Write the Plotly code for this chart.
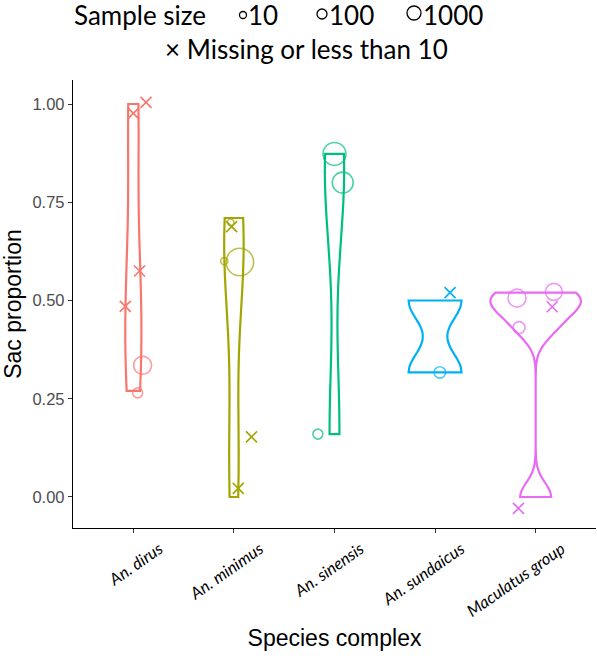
import numpy as np
import plotly.graph_objects as go

# ---------------- data ----------------
species = ["An. dirus", "An. minimus", "An. sinensis", "An. sundaicus", "Maculatus group"]
colors = ["#F8766D", "#A3A500", "#00BF7D", "#00B0F6", "#E76BF3"]

# sac proportion of each study (violin data), sample size (nan = missing or <10),
# horizontal / vertical jitter of the plotted point
dirus_prop = [1.00, 0.98, 0.575, 0.485, 0.335, 0.27]
dirus_n = [np.nan, np.nan, np.nan, np.nan, 620, 190]
dirus_jx = [0.126, 0.0, 0.062, -0.08, 0.092, 0.043]
dirus_jy = [0.004, -0.004, 0.0, 0.0, 0.0, -0.005]

minimus_prop = [0.71, 0.69, 0.60, 0.60, 0.155, 0.0]
minimus_n = [85, np.nan, 100, 1450, np.nan, np.nan]
minimus_jx = [-0.033, -0.023, -0.096, 0.059, 0.175, 0.043]
minimus_jy = [-0.011, -0.002, 0.0, -0.002, -0.002, 0.022]

sinensis_prop = [0.873, 0.80, 0.16]
sinensis_n = [1010, 840, 190]
sinensis_jx = [0.0, 0.082, -0.165]
sinensis_jy = [0.0, 0.0, 0.0]

sundaicus_prop = [0.50, 0.317]
sundaicus_n = [np.nan, 250]
sundaicus_jx = [0.149, 0.047]
sundaicus_jy = [0.02, 0.0]

maculatus_prop = [0.506, 0.52, 0.484, 0.431, 0.0]
maculatus_n = [620, 550, np.nan, 275, np.nan]
maculatus_jx = [-0.185, 0.181, 0.165, -0.165, -0.171]
maculatus_jy = [0.0, 0.002, 0.0, 0.0, -0.029]

props = [dirus_prop, minimus_prop, sinensis_prop, sundaicus_prop, maculatus_prop]
sizes = [dirus_n, minimus_n, sinensis_n, sundaicus_n, maculatus_n]
jit_x = [dirus_jx, minimus_jx, sinensis_jx, sundaicus_jx, maculatus_jx]
jit_y = [dirus_jy, minimus_jy, sinensis_jy, sundaicus_jy, maculatus_jy]

y_ticks = [0.0, 0.25, 0.50, 0.75, 1.00]
legend_sizes = [10, 100, 1000]

# ---------------- helpers ----------------
def nrd0(x):
    x = np.asarray(x, float)
    sd = np.std(x, ddof=1)
    q75, q25 = np.percentile(x, [75, 25])
    lo = min(sd, (q75 - q25) / 1.34)
    if lo == 0:
        lo = sd if sd > 0 else 1.0
    return 0.9 * lo * len(x) ** -0.2


def kde_max(x, bw):
    x = np.asarray(x, float)
    grid = np.linspace(x.min(), x.max(), 512)
    d = np.exp(-0.5 * ((grid[:, None] - x[None, :]) / bw) ** 2).sum(1)
    return (d / (len(x) * bw * np.sqrt(2 * np.pi))).max()


def diam(n):
    return 28 * np.sqrt(np.asarray(n, float) / 1500.0)


bws = [nrd0(p) for p in props]
maxd = [kde_max(p, b) for p, b in zip(props, bws)]
gmax = max(maxd)

fig = go.Figure()

for i, (p, bw, md, c) in enumerate(zip(props, bws, maxd, colors)):
    fig.add_trace(go.Violin(
        x=[i + 1] * len(p), y=p, bandwidth=bw, spanmode="hard",
        scalemode="width", width=0.9 * md / gmax,
        line=dict(color=c, width=2.2), fillcolor="rgba(255,255,255,0)",
        points=False, hoverinfo="skip", showlegend=False, name=species[i],
    ))

for i, c in enumerate(colors):
    p = np.array(props[i]); n = np.array(sizes[i], float)
    x = i + 1 + np.array(jit_x[i]); y = p + np.array(jit_y[i])
    has = ~np.isnan(n)
    fig.add_trace(go.Scatter(
        x=x[has], y=y[has], mode="markers", showlegend=False,
        marker=dict(symbol="circle-open", size=diam(n[has]), color=c, line=dict(width=1.6)),
    ))
    fig.add_trace(go.Scatter(
        x=x[~has], y=y[~has], mode="markers", showlegend=False,
        marker=dict(symbol="x-thin-open", size=11, color=c, line=dict(width=1.6)),
    ))

# ---------------- layout ----------------
W, H = 597, 660
L, R, T, B = 73, 1, 80, 132
pw, ph = W - L - R, H - T - B


def xp(px):
    return (px - L) / pw


def yp(py):
    return (H - B - py) / ph


legend_font = dict(family="Lato, Carlito, sans-serif", size=26, color="black")
ann = [
    dict(text="Sample size", x=xp(72), y=yp(15), xanchor="left", yanchor="middle"),
    dict(text=str(legend_sizes[0]), x=xp(246), y=yp(15), xanchor="left", yanchor="middle"),
    dict(text=str(legend_sizes[1]), x=xp(327), y=yp(15), xanchor="left", yanchor="middle"),
    dict(text=str(legend_sizes[2]), x=xp(421), y=yp(15), xanchor="left", yanchor="middle"),
    dict(text="× Missing or less than 10", x=xp(163), y=yp(49), xanchor="left", yanchor="middle"),
]
for a in ann:
    a.update(xref="paper", yref="paper", showarrow=False, font=legend_font)

shapes = []
for cx, cy, d in [(243, 15, 7), (322, 14, 10), (414, 13, 14)]:
    shapes.append(dict(type="circle", xref="paper", yref="paper",
                       xsizemode="pixel", ysizemode="pixel",
                       xanchor=xp(cx), yanchor=yp(cy),
                       x0=-d / 2, x1=d / 2, y0=-d / 2, y1=d / 2,
                       line=dict(color="black", width=1.3)))

axis_common = dict(showgrid=False, zeroline=False, showline=True, linecolor="black",
                   linewidth=1.3, ticks="outside", ticklen=4, tickcolor="#333333",
                   tickwidth=1.1)

fig.update_layout(
    width=W, height=H, margin=dict(l=L, r=R, t=T, b=B, autoexpand=False),
    plot_bgcolor="white", paper_bgcolor="white", violinmode="overlay",
    annotations=ann, shapes=shapes, showlegend=False,
    xaxis=dict(range=[0.4, 5.6], tickvals=[1, 2, 3, 4, 5],
               ticktext=["<i>%s</i>" % s for s in species], tickangle=-35,
               ticklabelshift=26,
               tickfont=dict(family="Lato, Carlito, sans-serif", size=16.5, color="black"),
               title=dict(text="Species complex", standoff=10,
                          font=dict(family="Liberation Sans, Arial, sans-serif", size=23, color="black")),
               **axis_common),
    yaxis=dict(range=[-0.0789, 1.0611], tickvals=y_ticks, ticktext=["%.2f" % v for v in y_ticks],
               tickfont=dict(family="Liberation Sans, Arial, sans-serif", size=16.5, color="#4D4D4D"),
               title=dict(text="Sac proportion", standoff=7,
                          font=dict(family="Liberation Sans, Arial, sans-serif", size=23, color="black")),
               **axis_common),
)

fig.write_html("out.html", config={"displayModeBar": False},
               post_script="document.body.style.margin='0px';")
